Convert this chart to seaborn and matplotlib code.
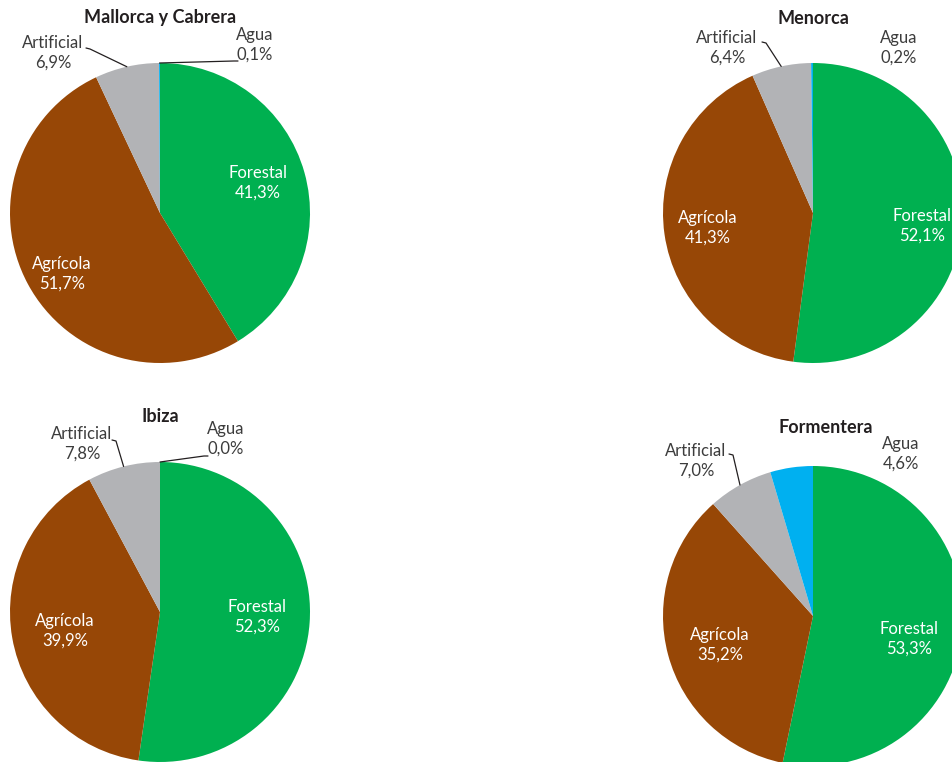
import numpy as np
import matplotlib
matplotlib.use("Agg")
import matplotlib.pyplot as plt
import seaborn as sns

# Land use share per island (%)
categories = ["Forestal", "Agrícola", "Artificial", "Agua"]
islands = ["Mallorca y Cabrera", "Menorca", "Ibiza", "Formentera"]
mallorca = [41.3, 51.7, 6.9, 0.1]
menorca = [52.1, 41.3, 6.4, 0.2]
ibiza = [52.3, 39.9, 7.8, 0.0]
formentera = [53.3, 35.2, 7.0, 4.6]
all_values = [mallorca, menorca, ibiza, formentera]

colors = ["#00B050", "#974706", "#B2B3B6", "#00B0F0"]

sns.set_theme(style="white")
plt.rcParams["font.family"] = ["Lato", "DejaVu Sans"]

W, H = 953, 762
fig = plt.figure(figsize=(W / 100, H / 100), dpi=100)
ax = fig.add_axes([0, 0, 1, 1])

R = 150
# layout (pixel coords, y measured from top)
centers = [(160, 213), (813, 213), (160, 612), (813, 616)]
title_pos = [(160, 18), (813, 18), (160, 417), (826, 428)]
forestal_pos = [(258, 183), (922, 226), (257, 617), (909, 639)]
agricola_pos = [(62, 274), (708, 228), (65, 631), (720, 645)]
artificial_pos = [(53, 53), (727, 48), (82, 444), (696, 461)]
artificial_tick = [(86, 48), (762, 42), (112, 440), (729, 454)]
agua_pos = [(255, 45), (899, 48), (226, 439), (901, 454)]
agua_line_end = [(234, 61), None, (204, 456), None]

txt = "#3C3C3C"
fs = 12


def fmt(v):
    return f"{v:.1f}%".replace(".", ",")


def Y(y):
    return H - y


for i, vals in enumerate(all_values):
    cx, cy = centers[i]
    ax.pie(vals, colors=colors, startangle=90, counterclock=False,
           center=(cx, Y(cy)), radius=R, normalize=True,
           wedgeprops=dict(linewidth=0))
    tx, ty = title_pos[i]
    ax.text(tx, Y(ty), islands[i], ha="center", va="center",
            fontsize=13, fontweight="bold", color="#231F20")
    x, y = forestal_pos[i]
    ax.text(x, Y(y), f"Forestal\n{fmt(vals[0])}", ha="center", va="center",
            fontsize=fs, color="white", linespacing=1.3)
    x, y = agricola_pos[i]
    ax.text(x, Y(y), f"Agrícola\n{fmt(vals[1])}", ha="center", va="center",
            fontsize=fs, color="white", linespacing=1.3)
    x, y = artificial_pos[i]
    ax.text(x, Y(y), f"Artificial\n{fmt(vals[2])}", ha="center", va="center",
            fontsize=fs, color=txt, linespacing=1.3)
    x, y = agua_pos[i]
    ax.text(x, Y(y), f"Agua\n{fmt(vals[3])}", ha="center", va="center",
            fontsize=fs, color=txt, linespacing=1.3)

    # leader line for Artificial: to middle of its arc
    total = sum(vals)
    mid = 90 + (vals[3] + vals[2] / 2) / total * 360
    ex = cx + R * np.cos(np.radians(mid))
    ey = cy - R * np.sin(np.radians(mid))
    sx, sy = artificial_tick[i]
    ax.plot([sx, sx + 4, ex], [Y(sy), Y(sy + 1), Y(ey)], color="#231F20", lw=0.9)

    # leader line for tiny Agua slices
    if agua_line_end[i] is not None:
        mid_a = 90 + vals[3] / 2 / total * 360
        ax_ = cx + R * np.cos(np.radians(mid_a))
        ay_ = cy - R * np.sin(np.radians(mid_a))
        lx, ly = agua_line_end[i]
        ax.plot([ax_, lx, lx + 4], [Y(ay_), Y(ly), Y(ly)], color="#231F20", lw=0.9)

# pie() resets limits, so fix the pixel frame afterwards
ax.set_xlim(0, W)
ax.set_ylim(0, H)
ax.set_aspect("equal")
ax.axis("off")

fig.savefig("out.png", dpi=100)
